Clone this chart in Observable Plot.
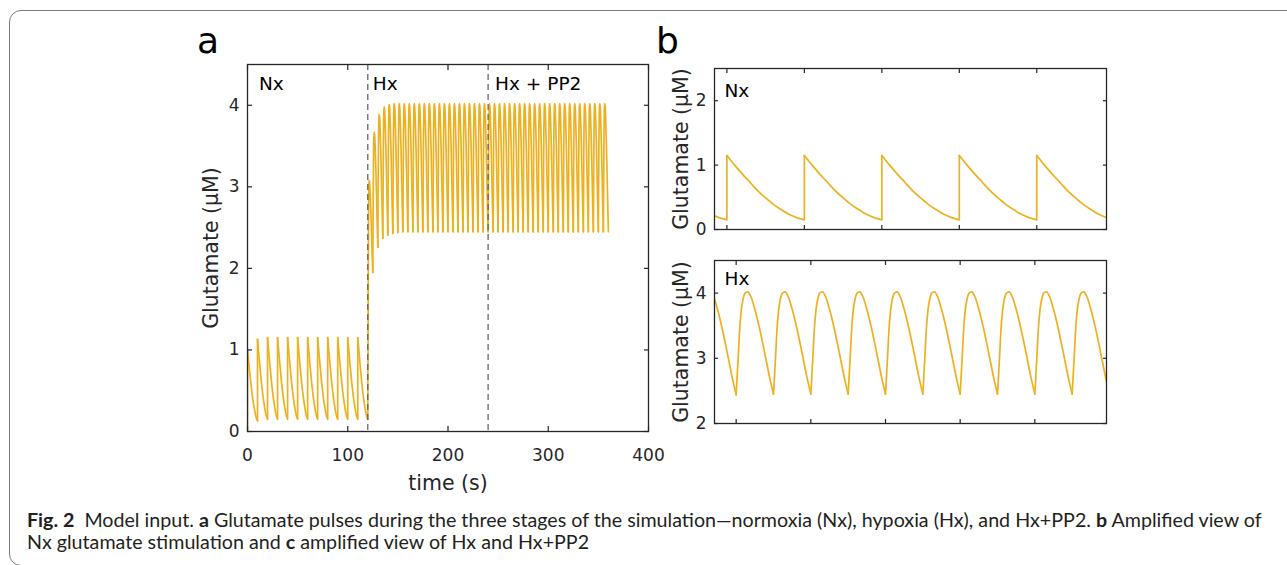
<!DOCTYPE html>
<html><head><meta charset="utf-8">
<script src="https://cdn.jsdelivr.net/npm/d3@7"></script>
<script src="https://cdn.jsdelivr.net/npm/@observablehq/plot@0.6"></script>
<style>
html,body{margin:0;padding:0;background:#fff;}
#page{position:relative;width:1287px;height:565px;overflow:hidden;background:#fff;}
#page svg{position:absolute;left:0;top:0;}
.border{position:absolute;left:9px;top:10px;width:1300px;height:556px;border:1.4px solid #7a7a7a;border-radius:12px;box-sizing:border-box;}
.letter{position:absolute;font-family:"DejaVu Sans",sans-serif;font-size:36px;line-height:36px;color:#000;}
.cap{position:absolute;left:27px;font-family:Lato,"Open Sans",sans-serif;font-size:15px;line-height:20px;color:#231f20;white-space:nowrap;}
</style></head>
<body>
<div id="page">
  <div class="border"></div>
  <div class="letter" style="left:197px;top:23px">a</div>
  <div class="letter" style="left:656px;top:23px">b</div>
  <div class="cap" id="cap1" style="top:510px"><b>Fig. 2</b>&nbsp; Model input. <b>a</b> Glutamate pulses during the three stages of the simulation—normoxia (Nx), hypoxia (Hx), and Hx+PP2. <b>b</b> Amplified view of</div>
  <div class="cap" id="cap2" style="top:532px">Nx glutamate stimulation and <b>c</b> amplified view of Hx and Hx+PP2</div>
</div>
<script>
// ---------------- data ----------------
// Normoxia (Nx): pulse every 10 s
const nxPulseTimes = [0, 10, 20, 30, 40, 50, 60, 70, 80, 90, 100, 110];
const nxStartValue = 0;
const nxPeakValues = [1.00, 1.13, 1.15, 1.15, 1.15, 1.15, 1.15, 1.15, 1.15, 1.15, 1.15, 1.15];
const nxEndValues  = [0.13, 0.148, 0.15, 0.15, 0.15, 0.15, 0.15, 0.15, 0.15, 0.15, 0.15, 0.15];
// one steady Nx cycle (time after pulse, value)
const nxCycleT = [0, 1, 2, 3, 4, 5, 6, 7, 8, 9, 10];
const nxCycleV = [1.15, 1.00, 0.86, 0.73, 0.60, 0.49, 0.39, 0.31, 0.235, 0.185, 0.15];

// Hypoxia (Hx) and Hx + PP2: pulse every 5 s
const hxPulseTimes = [120,125,130,135,140,145,150,155,160,165,170,175,180,185,190,195,200,205,210,215,220,225,230,235,240,245,250,255,260,265,270,275,280,285,290,295,300,305,310,315,320,325,330,335,340,345,350,355];
const hxPeakValues = [3.08,3.67,3.89,3.98,4.01,4.02,4.02,4.02,4.02,4.02,4.02,4.02,4.02,4.02,4.02,4.02,4.02,4.02,4.02,4.02,4.02,4.02,4.02,4.02,4.02,4.02,4.02,4.02,4.02,4.02,4.02,4.02,4.02,4.02,4.02,4.02,4.02,4.02,4.02,4.02,4.02,4.02,4.02,4.02,4.02,4.02,4.02,4.02];
const hxEndValues  = [1.95,2.26,2.37,2.41,2.43,2.44,2.45,2.45,2.45,2.45,2.45,2.45,2.45,2.45,2.45,2.45,2.45,2.45,2.45,2.45,2.45,2.45,2.45,2.45,2.45,2.45,2.45,2.45,2.45,2.45,2.45,2.45,2.45,2.45,2.45,2.45,2.45,2.45,2.45,2.45,2.45,2.45,2.45,2.45,2.45,2.45,2.45,2.45];
// one steady Hx cycle (time after pulse, value)
const hxCycleT = [0, 0.27, 0.45, 0.67, 0.89, 1.2, 1.56, 2.0, 2.46, 3.13, 3.79, 4.46, 5];
const hxCycleV = [2.45, 3.0, 3.41, 3.72, 3.89, 4.0, 4.02, 3.94, 3.77, 3.46, 3.10, 2.72, 2.45];

const stageBoundaries = [120, 240];
const stageLabels = ["Nx", "Hx", "Hx + PP2"];
const stageLabelX = [11.5, 125, 247];

const xTicksA = [0, 100, 200, 300, 400];
const yTicksA = [0, 1, 2, 3, 4];
const xTicksNx = [60, 70, 80, 90, 100];
const yTicksNx = [0, 1, 2];
const xTicksHx = [150, 160, 170, 180, 190];
const yTicksHx = [2, 3, 4];

// ---------------- build series ----------------
const series = [];
const jumps = [];
let seg = 0, prev = nxStartValue;
{
  const cPeak = nxCycleV[0], cEnd = nxCycleV[nxCycleV.length - 1];
  nxPulseTimes.forEach((T, i) => {
    const peak = nxPeakValues[i], end = nxEndValues[i];
    jumps.push({t: T, y1: prev, y2: peak});
    nxCycleT.forEach((dt, j) => {
      const f = (nxCycleV[j] - cEnd) / (cPeak - cEnd);
      series.push({t: T + dt, v: end + (peak - end) * f, seg});
    });
    seg++; prev = end;
  });
}
{
  const cLow = hxCycleV[0], cMax = d3.max(hxCycleV), iPeak = hxCycleV.indexOf(cMax);
  hxPulseTimes.forEach((T, i) => {
    const peak = hxPeakValues[i], end = hxEndValues[i];
    hxCycleT.forEach((dt, j) => {
      const f = (hxCycleV[j] - cLow) / (cMax - cLow);
      const base = j <= iPeak ? prev : end;
      series.push({t: T + dt, v: base + (peak - base) * f, seg});
    });
    seg++; prev = end;
  });
}

// ---------------- drawing ----------------
const W = 1287, H = 565;
const LINE = "#EDB120", AXIS = "#262626";
const FONT = "DejaVu Sans, sans-serif";
const fmt = d => String(d);

function axes(xt, yt, ts, labelX) {
  const m = [
    Plot.frame({stroke: AXIS, strokeWidth: 1.3}),
    Plot.axisX(xt, {anchor: "bottom", tickSize: -ts, tickFormat: () => "", stroke: AXIS, strokeWidth: 1.2}),
    Plot.axisX(xt, {anchor: "top", tickSize: -ts, tickFormat: () => "", stroke: AXIS, strokeWidth: 1.2}),
    Plot.axisY(yt, {anchor: "right", tickSize: -ts, tickFormat: () => "", stroke: AXIS, strokeWidth: 1.2}),
    Plot.axisY(yt, {anchor: "left", tickSize: -ts, tickFormat: () => "", stroke: AXIS, strokeWidth: 1.2}),
    Plot.axisY(yt, {anchor: "left", tickSize: 0, tickPadding: 8, fontSize: 17, fill: AXIS, tickFormat: fmt})
  ];
  if (labelX) m.push(Plot.axisX(xt, {anchor: "bottom", tickSize: 0, tickPadding: 17, fontSize: 17, fill: AXIS, tickFormat: fmt}));
  return m;
}

function traceMarks(sw) {
  return [
    Plot.line(series, {x: "t", y: "v", z: "seg", stroke: LINE, strokeWidth: sw, curve: "monotone-x", clip: true}),
    Plot.ruleX(jumps, {x: "t", y1: "y1", y2: "y2", stroke: LINE, strokeWidth: sw, clip: true})
  ];
}

function yLabel(dx) {
  return Plot.text(["Glutamate (µM)"], {text: d => d, frameAnchor: "left", rotate: -90, textAnchor: "middle", lineAnchor: "middle", dx, fontSize: 20.5, fill: AXIS});
}

const style = {background: "transparent", overflow: "visible", fontFamily: FONT, color: AXIS};

// Panel a
const plotA = Plot.plot({
  width: W, height: H, style,
  marginLeft: 247, marginRight: W - 648, marginTop: 64, marginBottom: H - 431,
  x: {domain: [0, 400], label: null},
  y: {domain: [0, 4.5], label: null},
  marks: [
    ...traceMarks(1.7),
    Plot.ruleX(stageBoundaries, {stroke: "#5a5a5a", strokeWidth: 1.2, strokeDasharray: "6,4"}),
    Plot.text(stageLabels, {x: (d, i) => stageLabelX[i], text: d => d, frameAnchor: "top", textAnchor: "start", lineAnchor: "middle", dy: 20, fontSize: 18.5, fill: "#000"}),
    ...axes(xTicksA, yTicksA, 5, true),
    Plot.text(["time (s)"], {text: d => d, frameAnchor: "bottom", textAnchor: "middle", lineAnchor: "middle", dy: 52, fontSize: 20.5, fill: AXIS}),
    yLabel(-36)
  ]
});

// Panel b top (Nx)
const plotBN = Plot.plot({
  width: W, height: H, style,
  marginLeft: 714, marginRight: W - 1106, marginTop: 68, marginBottom: H - 229,
  x: {domain: [58.4, 109], label: null},
  y: {domain: [0, 2.5], label: null},
  marks: [
    ...traceMarks(1.7),
    Plot.text(["Nx"], {text: d => d, frameAnchor: "top-left", textAnchor: "start", lineAnchor: "middle", dx: 10, dy: 22.5, fontSize: 18.5, fill: "#000"}),
    ...axes(xTicksNx, yTicksNx, 4, false),
    yLabel(-33)
  ]
});

// Panel b bottom (Hx)
const plotBH = Plot.plot({
  width: W, height: H, style,
  marginLeft: 714, marginRight: W - 1106, marginTop: 260, marginBottom: H - 423,
  x: {domain: [147.1, 199.6], label: null},
  y: {domain: [2, 4.5], label: null},
  marks: [
    ...traceMarks(1.7),
    Plot.text(["Hx"], {text: d => d, frameAnchor: "top-left", textAnchor: "start", lineAnchor: "middle", dx: 10, dy: 19, fontSize: 18.5, fill: "#000"}),
    ...axes(xTicksHx, yTicksHx, 4, false),
    yLabel(-33)
  ]
});

const page = document.getElementById("page");
page.appendChild(plotA);
page.appendChild(plotBN);
page.appendChild(plotBH);

// fit caption line to the reference width
const c1 = document.getElementById("cap1"), c2 = document.getElementById("cap2");
const w1 = c1.getBoundingClientRect().width;
const fs = 15 * 1235 / w1;
c1.style.fontSize = fs + "px";
c2.style.fontSize = fs + "px";
</script>
</body></html>
